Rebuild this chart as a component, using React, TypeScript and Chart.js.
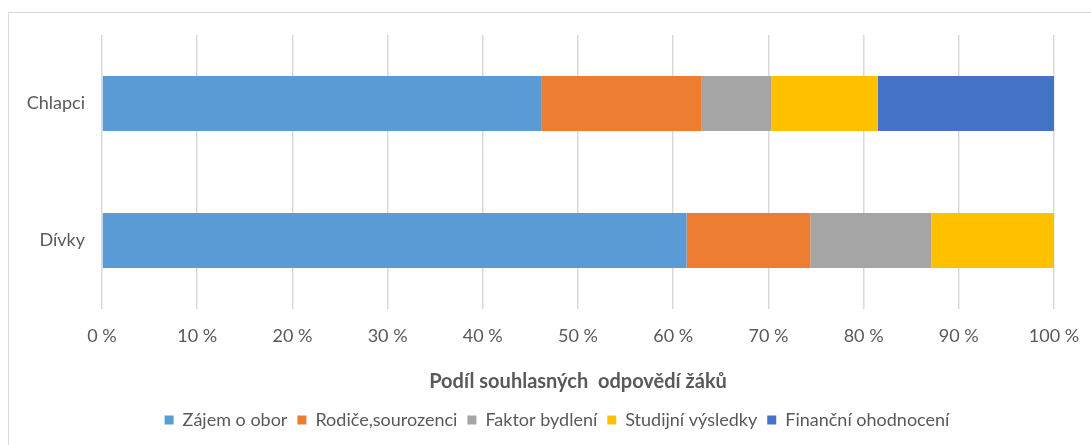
import React, { useEffect, useRef } from "react";
import { Chart, registerables } from "chart.js";

Chart.register(...registerables);

const categories = ["Chlapci", "Dívky"];
const seriesNames = [
  "Zájem o obor",
  "Rodiče,sourozenci",
  "Faktor bydlení",
  "Studijní výsledky",
  "Finanční ohodnocení",
];
const zajemOObor = [46.2, 61.4];
const rodiceSourozenci = [16.8, 13.0];
const faktorBydleni = [7.3, 12.7];
const studijniVysledky = [11.2, 12.9];
const financniOhodnoceni = [18.5, 0];
const seriesColors = ["#5B9BD5", "#ED7D31", "#A5A5A5", "#FFC000", "#4472C4"];
const axisTitle = "Podíl souhlasných  odpovědí žáků";
const tickSuffix = " %";

const FONT = "Lato, 'Open Sans', sans-serif";
const TEXT = "#595959";

const legendShift = {
  id: "legendShift",
  afterLayout(chart: any) {
    const lg = chart.legend;
    if (lg) {
      lg.left += 26;
      lg.right += 26;
      if (lg.legendHitBoxes) lg.legendHitBoxes.forEach((b: any) => (b.left += 26));
    }
  },
};

export default function App() {
  const ref = useRef<HTMLCanvasElement | null>(null);

  useEffect(() => {
    if (!ref.current) return;
    const values = [zajemOObor, rodiceSourozenci, faktorBydleni, studijniVysledky, financniOhodnoceni];
    const chart = new Chart(ref.current, {
      type: "bar",
      data: {
        labels: categories,
        datasets: seriesNames.map((name, i) => ({
          label: name,
          data: values[i],
          backgroundColor: seriesColors[i],
          borderWidth: 0,
          barPercentage: 0.4,
          categoryPercentage: 1,
        })),
      },
      plugins: [legendShift],
      options: {
        indexAxis: "y",
        animation: false,
        responsive: false,
        maintainAspectRatio: false,
        layout: { padding: { left: 8, right: 37, top: 35, bottom: 6 } },
        plugins: {
          tooltip: { enabled: false },
          legend: {
            position: "bottom",
            labels: {
              color: TEXT,
              font: { family: FONT, size: 18 },
              boxWidth: 9,
              boxHeight: 9,
              padding: 10,
            },
          },
        },
        scales: {
          x: {
            stacked: true,
            min: 0,
            max: 100,
            ticks: {
              stepSize: 10,
              color: TEXT,
              font: { family: FONT, size: 18 },
              padding: 0,
              callback: (v: any) => `${v}${tickSuffix}`,
            },
            grid: {
              color: "#d9d9d9",
              lineWidth: 1.5,
              drawTicks: true,
              tickLength: 16,
              tickColor: "rgba(0,0,0,0)",
            },
            border: { display: false },
            title: {
              display: true,
              text: axisTitle,
              color: TEXT,
              font: { family: FONT, size: 20, weight: "bold" },
              padding: { top: 0, bottom: 7 },
            },
            afterFit: (scale: any) => {
              scale.height = 92;
            },
          },
          y: {
            stacked: true,
            ticks: {
              color: TEXT,
              font: { family: FONT, size: 18 },
              padding: 17,
            },
            grid: { display: false, drawTicks: false },
            border: { display: false },
            afterFit: (scale: any) => {
              scale.width = 94;
            },
          },
        },
      },
    });
    return () => chart.destroy();
  }, []);

  return (
    <div style={{ position: "fixed", left: 0, top: 0, width: 1091, height: 445, background: "#fff", overflow: "hidden" }}>
      <div
        style={{
          position: "absolute",
          left: 8,
          top: 12,
          width: 1200,
          height: 440,
          border: "1.5px solid #d9d9d9",
          boxSizing: "border-box",
        }}
      />
      <canvas ref={ref} width={1091} height={445} style={{ position: "absolute", left: 0, top: 0 }} />
    </div>
  );
}
